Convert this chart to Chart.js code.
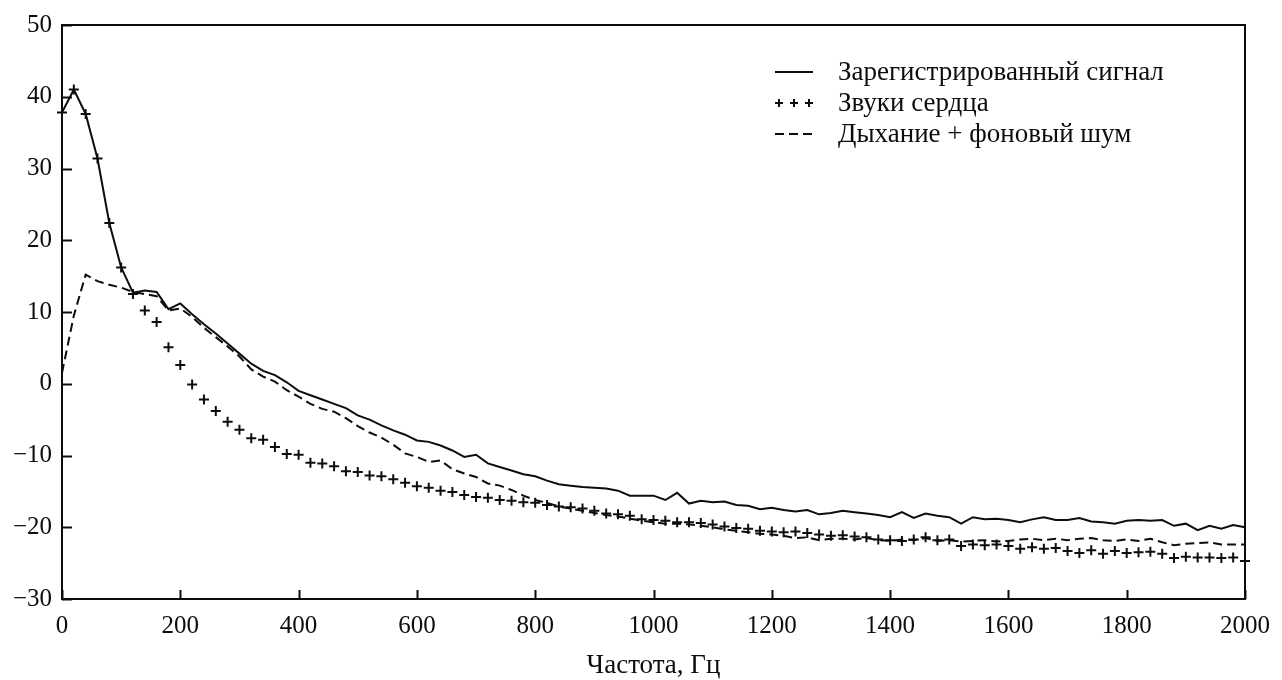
<!DOCTYPE html>
<html>
<head>
<meta charset="utf-8">
<script src="https://cdn.jsdelivr.net/npm/chart.js@4/dist/chart.umd.min.js"></script>
<style>
html,body{margin:0;padding:0;background:#ffffff;}
#wrap{width:1282px;height:680px;position:relative;}
</style>
</head>
<body>
<div id="wrap"><canvas id="c" width="1282" height="680"></canvas></div>
<script>
// ---- data ----
const freqHz = [
  0,20,40,60,80,100,120,140,160,180,
  200,220,240,260,280,300,320,340,360,380,
  400,420,440,460,480,500,520,540,560,580,
  600,620,640,660,680,700,720,740,760,780,
  800,820,840,860,880,900,920,940,960,980,
  1000,1020,1040,1060,1080,1100,1120,1140,1160,1180,
  1200,1220,1240,1260,1280,1300,1320,1340,1360,1380,
  1400,1420,1440,1460,1480,1500,1520,1540,1560,1580,
  1600,1620,1640,1660,1680,1700,1720,1740,1760,1780,
  1800,1820,1840,1860,1880,1900,1920,1940,1960,1980,
  2000
];
const recordedSignal = [
  37.8,41.0,37.6,31.4,22.4,16.2,12.7,13.0,12.8,10.4,
  11.2,9.7,8.3,7.0,5.6,4.2,2.8,1.8,1.2,0.2,
  -1.0,-1.6,-2.2,-2.8,-3.4,-4.4,-5.0,-5.8,-6.5,-7.1,
  -7.9,-8.1,-8.6,-9.3,-10.2,-9.9,-11.1,-11.6,-12.1,-12.6,
  -12.9,-13.5,-14.0,-14.2,-14.4,-14.5,-14.6,-14.9,-15.6,-15.6,
  -15.6,-16.2,-15.2,-16.7,-16.3,-16.5,-16.4,-16.9,-17.0,-17.5,
  -17.3,-17.6,-17.8,-17.6,-18.2,-18.0,-17.7,-17.9,-18.1,-18.3,
  -18.6,-17.9,-18.7,-18.1,-18.4,-18.6,-19.5,-18.6,-18.9,-18.8,
  -19.0,-19.3,-18.9,-18.6,-19.0,-19.0,-18.7,-19.2,-19.3,-19.5,
  -19.1,-19.0,-19.1,-19.0,-19.8,-19.5,-20.4,-19.8,-20.2,-19.7,
  -20.0
];
const heartSounds = [
  37.8,41.0,37.6,31.4,22.4,16.2,12.5,10.2,8.6,5.1,
  2.6,-0.1,-2.2,-3.8,-5.3,-6.4,-7.6,-7.8,-8.8,-9.8,
  -9.9,-11.0,-11.1,-11.5,-12.2,-12.3,-12.8,-12.9,-13.3,-13.8,
  -14.3,-14.5,-14.9,-15.1,-15.5,-15.8,-15.9,-16.2,-16.3,-16.5,
  -16.6,-16.9,-17.1,-17.2,-17.4,-17.7,-18.1,-18.2,-18.4,-18.9,
  -19.0,-19.1,-19.3,-19.3,-19.4,-19.6,-19.9,-20.1,-20.2,-20.5,
  -20.6,-20.7,-20.6,-20.8,-21.0,-21.2,-21.1,-21.3,-21.4,-21.7,
  -21.8,-21.9,-21.7,-21.4,-21.8,-21.7,-22.6,-22.4,-22.5,-22.4,
  -22.6,-23.0,-22.8,-23.0,-22.9,-23.3,-23.6,-23.2,-23.7,-23.3,
  -23.6,-23.5,-23.4,-23.7,-24.3,-24.1,-24.2,-24.2,-24.3,-24.2,
  -24.7
];
const breathNoise = [
  1.5,9.5,15.2,14.3,13.8,13.4,12.8,12.5,12.2,10.2,
  10.5,9.3,7.8,6.5,5.2,3.8,2.0,1.0,0.3,-0.9,
  -1.8,-2.8,-3.5,-3.9,-4.8,-5.9,-6.8,-7.5,-8.5,-9.7,
  -10.2,-10.9,-10.7,-11.9,-12.5,-13.0,-13.9,-14.2,-14.8,-15.6,
  -16.2,-16.6,-17.1,-17.4,-17.7,-18.0,-18.3,-18.5,-18.8,-19.1,
  -19.3,-19.5,-19.5,-19.6,-19.8,-20.0,-20.3,-20.5,-20.7,-20.9,
  -21.0,-21.2,-21.5,-21.4,-21.8,-21.6,-21.6,-21.7,-21.5,-21.8,
  -21.9,-21.7,-21.8,-21.5,-21.9,-21.8,-22.0,-21.9,-21.8,-22.0,
  -21.9,-21.7,-21.6,-21.8,-21.6,-21.8,-21.6,-21.5,-21.8,-21.9,
  -21.7,-21.9,-21.6,-22.1,-22.5,-22.3,-22.2,-22.1,-22.4,-22.4,
  -22.4
];
const xTickValues = [0,200,400,600,800,1000,1200,1400,1600,1800,2000];
const yTickValues = [-30,-20,-10,0,10,20,30,40,50];
const seriesNames = ['Зарегистрированный сигнал','Звуки сердца','Дыхание + фоновый шум'];
const xAxisTitle = 'Частота, Гц';

// ---- styling ----
const INK = '#0d0d0d';
const FONT = '"Liberation Serif", "Times New Roman", serif';

const toXY = arr => freqHz.map((f, i) => ({x: f, y: arr[i]}));

const framePlugin = {
  id: 'frame',
  afterDatasetsDraw(chart) {
    const {ctx, chartArea: a, scales: {x, y}} = chart;
    ctx.save();
    ctx.strokeStyle = INK;
    ctx.lineWidth = 2;
    ctx.strokeRect(a.left, a.top, a.right - a.left, a.bottom - a.top);
    ctx.beginPath();
    xTickValues.forEach(v => {
      const px = Math.round(x.getPixelForValue(v)) + 0.5;
      ctx.moveTo(px, a.bottom); ctx.lineTo(px, a.bottom - 9);
    });
    yTickValues.forEach(v => {
      const py = Math.round(y.getPixelForValue(v)) + 0.5;
      ctx.moveTo(a.left, py); ctx.lineTo(a.left + 10, py);
    });
    ctx.stroke();

    // legend inside plot, top-right
    const ds = chart.data.datasets;
    const lx = 775, lineLen = 38, tx = 838;
    const rows = [72, 103, 134];
    ctx.font = '27px ' + FONT;
    ctx.fillStyle = INK;
    ctx.textBaseline = 'middle';
    ctx.textAlign = 'left';
    rows.forEach((ry, i) => {
      const d = ds[i];
      ctx.lineWidth = 2;
      ctx.setLineDash([]);
      if (i === 0) {
        ctx.beginPath(); ctx.moveTo(lx, ry); ctx.lineTo(lx + lineLen, ry); ctx.stroke();
      } else if (i === 1) {
        [lx + 4, lx + 19, lx + 34].forEach(cx => {
          ctx.beginPath();
          ctx.moveTo(cx - 4, ry); ctx.lineTo(cx + 4, ry);
          ctx.moveTo(cx, ry - 4); ctx.lineTo(cx, ry + 4);
          ctx.stroke();
        });
      } else {
        ctx.setLineDash([9, 5]);
        ctx.beginPath(); ctx.moveTo(lx, ry); ctx.lineTo(lx + lineLen, ry); ctx.stroke();
        ctx.setLineDash([]);
      }
      ctx.fillText(d.label, tx, ry + 1);
    });
    ctx.restore();
  }
};

new Chart(document.getElementById('c'), {
  type: 'line',
  data: {
    datasets: [
      {
        label: seriesNames[0],
        data: toXY(recordedSignal),
        borderColor: INK, borderWidth: 2, pointRadius: 0, tension: 0, clip: false, order: 1
      },
      {
        label: seriesNames[1],
        data: toXY(heartSounds),
        showLine: false, pointStyle: 'cross', pointRadius: 5, pointBorderWidth: 2,
        borderColor: INK, backgroundColor: INK, clip: false, order: 0
      },
      {
        label: seriesNames[2],
        data: toXY(breathNoise),
        borderColor: INK, borderWidth: 2, borderDash: [9, 5], pointRadius: 0, tension: 0, clip: false, order: 2
      }
    ]
  },
  options: {
    responsive: false,
    animation: false,
    devicePixelRatio: 1,
    layout: {padding: {top: 20, right: 37, left: 0, bottom: 0}},
    plugins: {legend: {display: false}, tooltip: {enabled: false}},
    scales: {
      x: {
        type: 'linear', min: 0, max: 2000,
        afterBuildTicks: s => { s.ticks = xTickValues.map(v => ({value: v})); },
        afterFit: s => { s.height = 81; },
        grid: {display: false, drawTicks: false},
        border: {display: false},
        ticks: {
          color: INK, padding: 12, maxRotation: 0, autoSkip: false,
          font: {family: FONT, size: 25},
          callback: v => String(v)
        },
        title: {
          display: true, text: xAxisTitle, color: INK,
          font: {family: FONT, size: 27}, padding: {top: 0, bottom: -2}
        }
      },
      y: {
        type: 'linear', min: -30, max: 50,
        afterBuildTicks: s => { s.ticks = yTickValues.map(v => ({value: v})); },
        afterFit: s => { s.width = 62; },
        grid: {display: false, drawTicks: false},
        border: {display: false},
        ticks: {
          color: INK, padding: 10, autoSkip: false,
          font: {family: FONT, size: 25},
          callback: v => (v < 0 ? '\u2212' + Math.abs(v) : String(v))
        }
      }
    }
  },
  plugins: [framePlugin]
});
</script>
</body>
</html>
